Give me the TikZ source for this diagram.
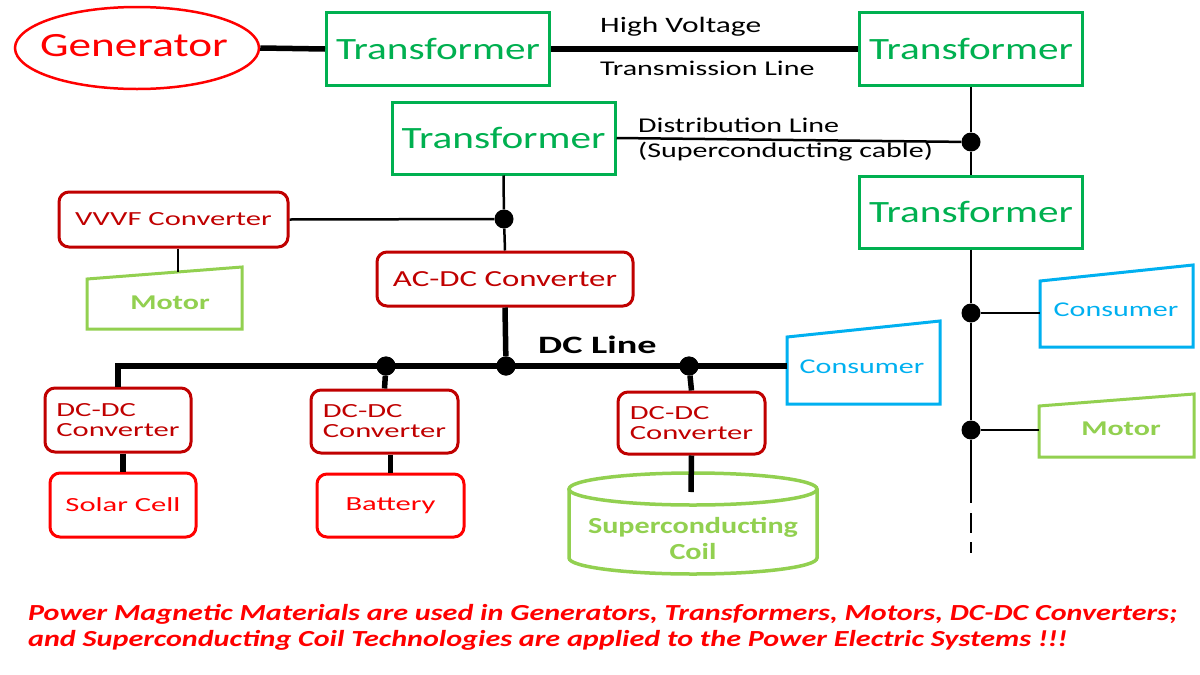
\documentclass[tikz,border=0pt]{standalone}
\usepackage{fontspec}
\setmainfont{Carlito}[FakeStretch=1.31]
\newfontfamily\fA{Carlito}[FakeStretch=1.33]
\newfontfamily\fB{Carlito}[FakeStretch=1.43]
\newfontfamily\fC{Carlito}[FakeStretch=1.53]
\usetikzlibrary{shapes.geometric}
\definecolor{gred}{HTML}{FF0000}
\definecolor{tgreen}{HTML}{00B050}
\definecolor{dred}{HTML}{C00000}
\definecolor{cyanb}{HTML}{00B0F0}
\definecolor{lgreen}{HTML}{92D050}
\newcommand{\fsz}[1]{\fontsize{#1}{#1}\selectfont}
\begin{document}
\begin{tikzpicture}[x=1pt,y=-1pt,
  trafo/.style={draw=tgreen,line width=3pt,text=tgreen,minimum width=223pt,minimum height=73pt,inner sep=0pt,font=\fA\fsz{31}},
  conv/.style={draw=dred,line width=3pt,rounded corners=10pt,text=dred,inner sep=0pt,font=\fC\fsz{20}},
  srcbox/.style={draw=gred,line width=3pt,rounded corners=10pt,text=gred,inner sep=0pt,font=\fC\fsz{20}},
  bus/.style={line width=5.5pt},
  wire/.style={line width=2.5pt},
  jdot/.style={circle,fill=black,inner sep=0pt,minimum size=19pt},
  lbl/.style={inner sep=0pt,anchor=west,font=\fB\fsz{21}},
  trap/.style={line width=3pt},
  txt/.style={inner sep=0pt}
]
\path[fill=white,use as bounding box] (0,0) rectangle (1200,675);

% generator and transformers
\node[ellipse,draw=gred,line width=2.5pt,minimum width=244pt,minimum height=82pt,inner sep=0pt] (gen) at (137,48) {};
\node[txt,text=gred,font=\fA\fsz{34}] (gent) at (134,46) {Generator};
\node[trafo] (t1) at (438,49) {Transformer};
\node[trafo] (t2) at (971,49) {Transformer};
\node[trafo,minimum height=72pt] (t3) at (503.5,138) {Transformer};
\node[trafo,minimum height=72pt] (t4) at (971,212) {Transformer};

\draw[bus] (gen.east) -- (t1.west);
\draw[bus] (t1.east) -- (t2.west);
\node[lbl,font=\fB\fsz{22}] (hv) at (600,27) {High Voltage};
\node[lbl] (tl) at (600,68) {Transmission Line};

% distribution
\node[jdot] (d1) at (971,142) {};
\draw[wire] (t2.south) -- (d1) -- (t4.north);
\draw[wire] (t3.east) -- (d1);
\node[lbl] (dl1) at (638,125) {Distribution Line};
\node[lbl] (dl2) at (638,152) {(Superconducting cable)};

% converters
\node[conv,minimum width=229pt,minimum height=55pt] (vvvf) at (173.5,219.5) {VVVF Converter};
\node[jdot] (d2) at (504,219) {};
\node[conv,minimum width=256pt,minimum height=54pt,font=\fB\fsz{23}] (acdc) at (505,279) {AC-DC Converter};
\draw[wire] (t3.south) -- (d2) -- (acdc.north);
\draw[wire] (vvvf.east) -- (d2);

% left motor
\draw[trap,draw=lgreen] (87,279) -- (242,267) -- (242,329) -- (87,329) -- cycle;
\coordinate (mltop) at (178,272);
\node[txt,text=lgreen,font=\fB\bfseries\fsz{21}] (mlt) at (170,303) {Motor};
\draw[wire] (vvvf.south -| mltop) -- (mltop);

% DC line
\node[jdot] (da) at (386,366) {};
\node[jdot] (db) at (506,366) {};
\node[jdot] (dc) at (689,366) {};
\draw[bus] (acdc.south) -- (db);
\node[txt,anchor=west,font=\fC\bfseries\fsz{25}] (dcl) at (538,345) {DC Line};

\node[conv,minimum width=146pt,minimum height=64pt,align=left] (dd1) at (118,420) {DC-DC\\Converter};
\node[conv,minimum width=147pt,minimum height=63pt,align=left] (dd2) at (384.5,421.5) {DC-DC\\Converter};
\node[conv,minimum width=147pt,minimum height=62pt,align=left] (dd3) at (691.5,423) {DC-DC\\Converter};

% middle consumer
\draw[trap,draw=cyanb] (787,337) -- (940,321) -- (940,404) -- (787,404) -- cycle;
\coordinate (cmw) at (787,366);
\node[txt,text=cyanb,font=\fB\fsz{21}] (cmt) at (862,367) {Consumer};

\draw[bus] (dd1.north) |- (cmw);
\draw[bus] (dd2.north) -- (da);
\draw[bus] (dd3.north) -- (dc);
\node[jdot] at (da) {};
\node[jdot] at (db) {};
\node[jdot] at (dc) {};

% sources
\node[srcbox,minimum width=146pt,minimum height=64pt] (solar) at (123,505) {Solar Cell};
\node[srcbox,minimum width=147pt,minimum height=63pt] (batt) at (390.5,505.5) {Battery};
\draw[bus] (dd1.south -| solar.north) -- (solar.north);
\draw[bus] (dd2.south -| batt.north) -- (batt.north);

% coil
\draw[line width=3.5pt,draw=lgreen] (569,489) -- (569,558) arc[start angle=180,end angle=360,x radius=124pt,y radius=16pt] -- (817,489);
\draw[line width=3.5pt,draw=lgreen] (693,489) ellipse[x radius=124pt,y radius=16pt];
\coordinate (coiltop) at (691,492);
\node[txt,text=lgreen,font=\bfseries\fsz{23},align=center] (coilt) at (693,538) {Superconducting\\[3pt]Coil};
\draw[bus] (dd3.south) -- (coiltop);

% right branch
\node[jdot] (d3) at (971,313) {};
\node[jdot] (d4) at (971,430) {};
\coordinate (vend) at (971,503);
\draw[wire] (t4.south) -- (d3) -- (d4) -- (vend);
\coordinate (dsa) at (971,513);
\coordinate (dsb) at (971,553);
\draw[wire,dash pattern=on 20pt off 9pt] (dsa) -- (dsb);

\draw[trap,draw=cyanb] (1040,281) -- (1193,265) -- (1193,347) -- (1040,347) -- cycle;
\coordinate (crw) at (1040,313);
\node[txt,text=cyanb,font=\fB\fsz{21}] (crt) at (1116,310) {Consumer};
\draw[wire] (d3) -- (crw);

\draw[trap,draw=lgreen] (1039,406) -- (1194,394) -- (1194,457) -- (1039,457) -- cycle;
\coordinate (mrw) at (1039,430);
\node[txt,text=lgreen,font=\fB\bfseries\fsz{21}] (mrt) at (1121,429) {Motor};
\draw[wire] (d4) -- (mrw);

% bottom note
\node[txt,anchor=base west,text=gred,font=\bfseries\itshape\fsz{23}] (n1) at (28,620) {Power Magnetic Materials are used in Generators, Transformers, Motors, DC-DC Converters;};
\node[txt,anchor=base west,text=gred,font=\bfseries\itshape\fsz{23}] (n2) at (28,646) {and Superconducting Coil Technologies are applied to the Power Electric Systems !!!};
\end{tikzpicture}
\end{document}
